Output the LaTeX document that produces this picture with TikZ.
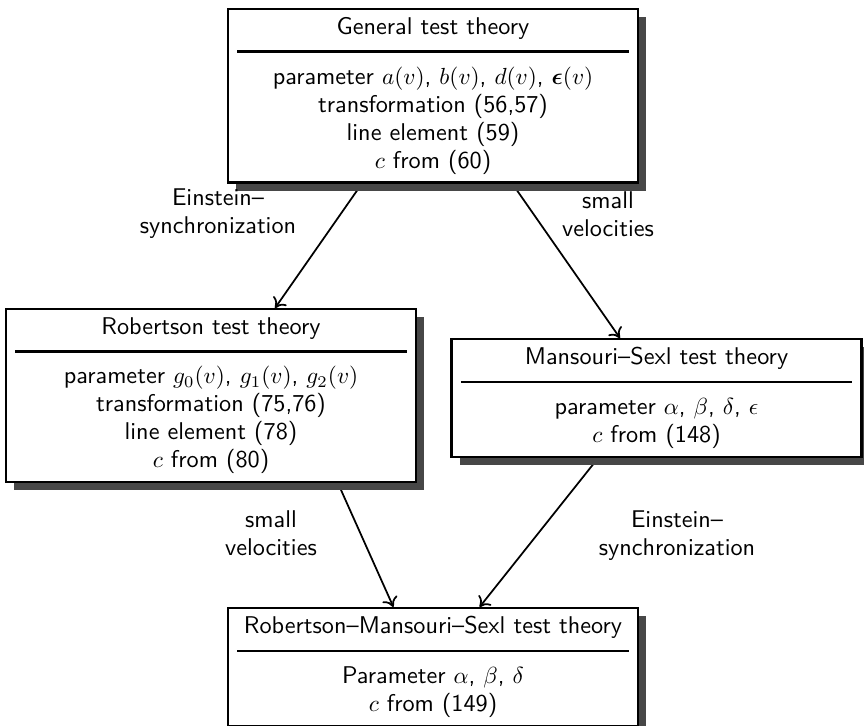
\documentclass[tikz,border=0pt]{standalone}
\usepackage{amsmath}
\usepackage{tikz}
\usetikzlibrary{arrows.meta,positioning,shadows}
\renewcommand{\familydefault}{\sfdefault}
\tikzset{
theory/.style={
  rectangle,
  draw=black,
  line width=1pt,
  fill=white,
  drop shadow={shadow xshift=3.5pt,shadow yshift=-3.5pt,
    opacity=1,fill=black!72},
  text width=168pt,
  inner xsep=4pt,
  inner ysep=3.5pt,
  align=center,
  anchor=north,
  font=\fontsize{10.4}{12}\selectfont
  },
conn/.style={line width=0.75pt,-{To[length=4pt,width=7pt]}},
lbl/.style={align=center,font=\fontsize{10.4}{12}\selectfont}
}
\newcommand{\theoryhead}[1]{#1\\[-4pt]\rule{\hsize}{1.1pt}\\[1.4pt]}
\pgfdeclarelayer{background}
\pgfsetlayers{background,main}

\begin{document}
\begin{tikzpicture}[x=0.4292pt,y=-0.4292pt]
\useasboundingbox (0,0) rectangle (864,726);

% the four test theories
\node[theory] (general) at (433,8)
  {\theoryhead{General test theory}
   parameter $a(v)$, $b(v)$, $d(v)$, $\boldsymbol{\epsilon}(v)$\\
   transformation (56,57)\\
   line element (59)\\
   $c$ from (60)};
\node[theory] (robertson) at (211,308)
  {\theoryhead{Robertson test theory}
   parameter $g_0(v)$, $g_1(v)$, $g_2(v)$\\
   transformation (75,76)\\
   line element (78)\\
   $c$ from (80)};
\node[theory] (mansouri) at (656.5,338)
  {\theoryhead{Mansouri--Sexl test theory}
   parameter $\alpha$, $\beta$, $\delta$, $\epsilon$\\
   $c$ from (148)};
\node[theory] (rms) at (433,607)
  {\theoryhead{Robertson--Mansouri--Sexl test theory}
   Parameter $\alpha$, $\beta$, $\delta$\\
   $c$ from (149)};

% connections, behind the shadows
\begin{pgfonlayer}{background}
\draw[conn] ([xshift=-30.5pt]general.south) -- ([xshift=27.5pt]robertson.north);
\draw[conn] ([xshift=34pt]general.south) -- ([xshift=-15.7pt]mansouri.north);
\draw[conn] ([xshift=54.5pt]robertson.south) -- ([xshift=-17pt]rms.north);
\draw[conn] ([xshift=-25pt]mansouri.south) -- ([xshift=20pt]rms.north);
\end{pgfonlayer}

\node[lbl] (sync1) at (218,214) {Einstein--\\synchronization};
\node[lbl] (small1) at (608,214) {small\\velocities};
\node[lbl] (small2) at (271,533) {small\\velocities};
\node[lbl] (sync2) at (677,536) {Einstein--\\synchronization};
\end{tikzpicture}
\end{document}
